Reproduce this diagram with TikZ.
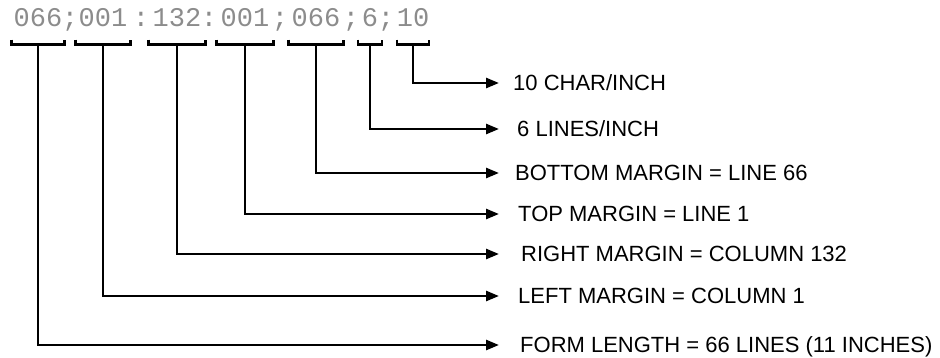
\documentclass[tikz,border=0pt]{standalone}
\usepackage{fontspec}
\setmainfont{Liberation Sans}
\newfontfamily\dotfont{Liberation Mono}
\usetikzlibrary{arrows.meta,calc}
\begin{document}
\begin{tikzpicture}[x=1pt,y=-1pt,
  field/.style={font=\dotfont\fontsize{27}{27}\selectfont, text=black!45, inner sep=0pt, anchor=base},
  brk/.style={line width=2.7pt},
  conn/.style={line width=2.6pt, -{Triangle[length=13pt,width=10pt]}},
  lbl/.style={font=\fontsize{22}{26}\selectfont, anchor=west, inner sep=0pt, text height=15.8pt, text depth=0pt}]
\useasboundingbox (0,0) rectangle (940,357);
% code string
\node[field] (f1) at (38,26) {066};
\node[field] (s1) at (70,26) {;};
\node[field] (f2) at (103,26) {001};
\node[field] (s2) at (141,26) {:};
\node[field] (f3) at (177,26) {132};
\node[field] (s3) at (209,26) {:};
\node[field] (f4) at (245,26) {001};
\node[field] (s4) at (280,26) {;};
\node[field] (f5) at (316,26) {066};
\node[field] (s5) at (351,26) {;};
\node[field] (f6) at (370,26) {6};
\node[field] (s6) at (386,26) {;};
\node[field] (f7) at (413,26) {10};
\coordinate (bt) at (0,39.5);
\coordinate (bh) at (0,44.5);
% brackets
\foreach \f/\w in {f1/26.5,f2/27.5,f3/28.5,f4/28.5,f5/27.5,f6/12,f7/16}
  \draw[brk] ($(\f.base |- bt)+(-\w,0)$) -- ($(\f.base |- bh)+(-\w,0)$)
    -- ($(\f.base |- bh)+(\w,0)$) -- ($(\f.base |- bt)+(\w,0)$);
% labels
\node[lbl] (l7) at (513,83)  {10 CHAR/INCH};
\node[lbl] (l6) at (517,129) {6 LINES/INCH};
\node[lbl] (l5) at (515,173) {BOTTOM MARGIN = LINE 66};
\node[lbl] (l4) at (518,214) {TOP MARGIN = LINE 1};
\node[lbl] (l3) at (521,254) {RIGHT MARGIN = COLUMN 132};
\node[lbl] (l2) at (518,296) {LEFT MARGIN = COLUMN 1};
\node[lbl] (l1) at (520,345) {FORM LENGTH = 66 LINES (11 INCHES)};
% connectors
\draw[conn, shorten >=14pt] (f7 |- bh) |- (l7.west);
\draw[conn, shorten >=18pt] (f6 |- bh) |- (l6.west);
\draw[conn, shorten >=16pt] (f5 |- bh) |- (l5.west);
\draw[conn, shorten >=19pt] (f4 |- bh) |- (l4.west);
\draw[conn, shorten >=22pt] (f3 |- bh) |- (l3.west);
\draw[conn, shorten >=19pt] (f2 |- bh) |- (l2.west);
\draw[conn, shorten >=21pt] (f1 |- bh) |- (l1.west);
\end{tikzpicture}
\end{document}
